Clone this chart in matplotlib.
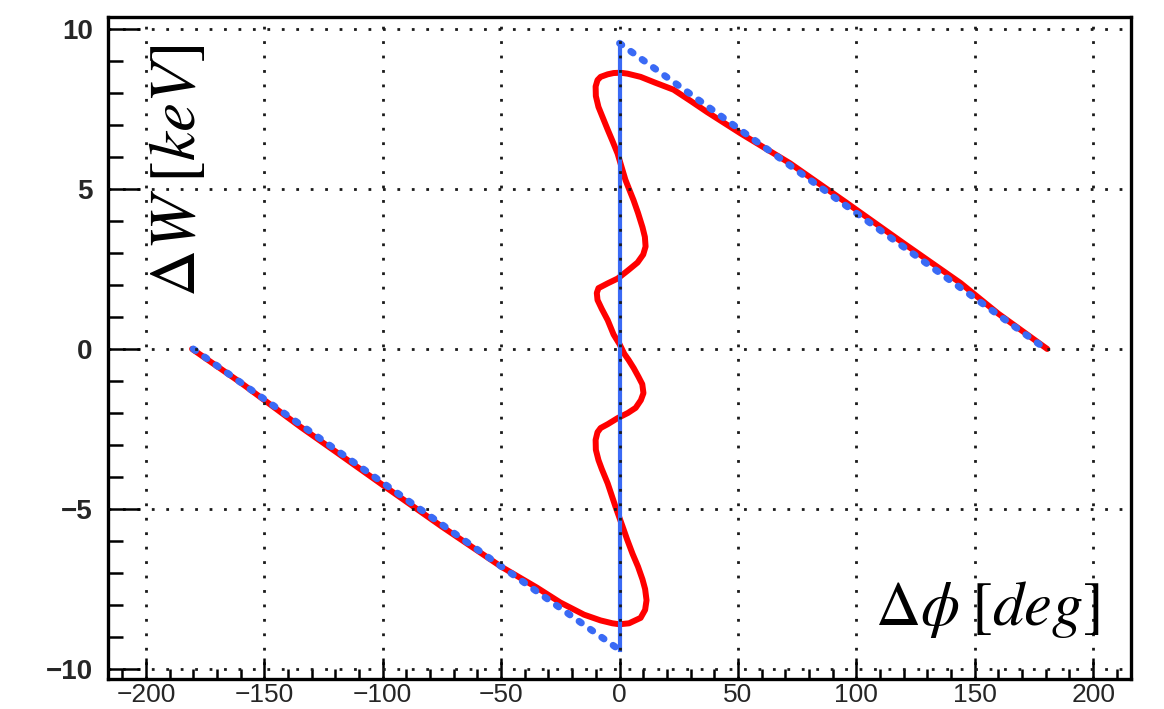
import matplotlib
matplotlib.use("Agg")
import matplotlib.pyplot as plt
from matplotlib.ticker import MultipleLocator

plt.rcParams["mathtext.fontset"] = "stix"
plt.rcParams["font.family"] = ["Liberation Sans", "DejaVu Sans"]

# separatrix (blue) corners
sep_lower_x = [-180, 0]
sep_lower_y = [0.0, -9.4]
sep_upper_x = [0, 180]
sep_upper_y = [9.55, 0.0]
sep_vert_x = [0, 0]
sep_vert_y = [-9.4, 9.55]

# tracked particle (red)
red_x = [-180.5, -160, -134.6, -120, -100, -75, -50, -35, -25, -15, -8, -3, 0,
         4, 8.9, 10.8, 11.4, 10.8, 9.7, 7.8, 5.5, 3.2, 1.3, -1.7, -5, -7.5, -8.9,
         -10, -10.1, -9.3, -8, -5, -0.8, 3.5, 6.8, 9, 10.1, 9.6, 8, 6, 3.8, 2.0,
         0, -2.5, -5, -7.5, -9.3, -9.6, -8.9, -5, -0.8, 3.5, 7.6, 10, 11, 10.7,
         9.7, 7.8, 5.9, 4, 2.5, 0.8, -0.8, -3, -5, -7.2, -8.9, -10, -10.1, -9.3,
         -8, -5, -2.5, 0.4, 3.4, 8.9, 15, 22.8, 30, 37, 51, 72, 96, 120, 144,
         160, 180.6]
red_y = [0.0, -1.05, -2.44, -3.2, -4.25, -5.55, -6.8, -7.45, -7.92, -8.3, -8.48,
         -8.57, -8.6, -8.57, -8.4, -8.15, -7.85, -7.5, -7.2, -6.8, -6.4, -5.95,
         -5.55, -4.93, -4.2, -3.75, -3.47, -3.15, -2.84, -2.6, -2.47, -2.35,
         -2.16, -2.0, -1.84, -1.6, -1.38, -1.1, -0.87, -0.6, -0.34, -0.15, 0.15,
         0.45, 0.9, 1.25, 1.53, 1.75, 1.9, 2.05, 2.2, 2.45, 2.7, 2.95, 3.2, 3.5,
         3.8, 4.25, 4.65, 5.0, 5.28, 5.7, 6.1, 6.5, 6.85, 7.25, 7.56, 7.9, 8.2,
         8.4, 8.5, 8.58, 8.62, 8.63, 8.6, 8.5, 8.32, 8.1, 7.75, 7.4, 6.74, 5.8,
         4.56, 3.3, 2.06, 1.1, 0.0]

blue = "#3a6af5"

fig = plt.figure(figsize=(11.64, 7.09), dpi=100)
ax = fig.add_axes([0.0928, 0.0423, 0.8789, 0.9337])

ax.plot(red_x, red_y, color="red", lw=4.3, solid_joinstyle="round",
        solid_capstyle="round", zorder=1.5)
ax.plot(sep_vert_x, sep_vert_y, color=blue, lw=3, zorder=2)
for xs, ys in [(sep_lower_x, sep_lower_y), (sep_upper_x, sep_upper_y)]:
    ax.plot(xs, ys, color=blue, lw=5, linestyle=(0, (0.4, 1.6)),
            dash_capstyle="round", zorder=2)

ax.set_xlim(-216, 216)
ax.set_ylim(-10.31, 10.37)

ax.xaxis.set_major_locator(MultipleLocator(50))
ax.xaxis.set_minor_locator(MultipleLocator(10))
ax.yaxis.set_major_locator(MultipleLocator(5))
ax.yaxis.set_minor_locator(MultipleLocator(1))

ax.set_axisbelow(False)
ax.grid(True, which="major", color="0.1", lw=2, linestyle=(0, (1, 4.2)))

ax.tick_params(axis="both", which="both", direction="in", top=False,
               right=False, width=1.8, color="black")
ax.tick_params(axis="x", which="major", length=15, pad=3, labelsize=19)
ax.tick_params(axis="x", which="minor", length=7)
ax.tick_params(axis="y", which="major", length=23, pad=11, labelsize=20)
ax.tick_params(axis="y", which="minor", length=11)
for lab in ax.get_yticklabels():
    lab.set_fontweight("bold")
for lab in ax.get_xticklabels() + ax.get_yticklabels():
    lab.set_color("0.15")

for sp in ax.spines.values():
    sp.set_linewidth(2.4)

ax.text(0.068, 0.958, r"$\Delta W\;[keV]$", transform=ax.transAxes,
        rotation=90, ha="center", va="top", fontsize=47)
ax.text(0.970, 0.082, r"$\Delta \phi\;[deg]$", transform=ax.transAxes,
        ha="right", va="baseline", fontsize=45)

fig.savefig("out.png", dpi=100)
